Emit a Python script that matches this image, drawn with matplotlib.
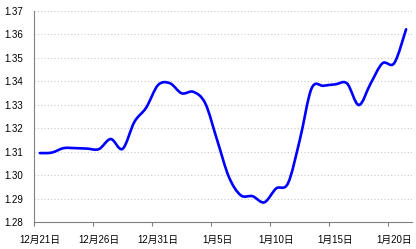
import matplotlib
matplotlib.use("Agg")
import matplotlib.pyplot as plt
import numpy as np
from matplotlib.path import Path
from matplotlib.patches import PathPatch

# daily rate, 12/21 .. 1/21
dates = ["12月21日", "12月22日", "12月23日", "12月24日", "12月25日", "12月26日",
         "12月27日", "12月28日", "12月29日", "12月30日", "12月31日", "1月1日",
         "1月2日", "1月3日", "1月4日", "1月5日", "1月6日", "1月7日", "1月8日",
         "1月9日", "1月10日", "1月11日", "1月12日", "1月13日", "1月14日",
         "1月15日", "1月16日", "1月17日", "1月18日", "1月19日", "1月20日", "1月21日"]
rate = [1.3094, 1.3096, 1.3115, 1.3115, 1.3113, 1.3111, 1.3154, 1.3112,
        1.3227, 1.3288, 1.3384, 1.3392, 1.3349, 1.3355, 1.3306, 1.3150,
        1.2992, 1.2914, 1.2910, 1.2884, 1.2943, 1.2965, 1.3150, 1.3370,
        1.3381, 1.3387, 1.3391, 1.3299, 1.3391, 1.3477, 1.3478, 1.3622]
yticks = [1.28, 1.29, 1.30, 1.31, 1.32, 1.33, 1.34, 1.35, 1.36, 1.37]
label_every = 5

plt.rcParams['font.family'] = ['Liberation Sans', 'Noto Sans CJK SC']

fig = plt.figure(figsize=(4.16, 2.49), dpi=100)
ax = fig.add_axes([34 / 416, 27 / 249, 378 / 416, 211 / 249])

x = np.arange(len(rate))
y = np.array(rate)

# smoothed line like a spreadsheet chart (bezier through the points)
verts = [(x[0], y[0])]
codes = [Path.MOVETO]
n = len(x)
for i in range(n - 1):
    p0 = np.array([x[max(i - 1, 0)], y[max(i - 1, 0)]])
    p1 = np.array([x[i], y[i]])
    p2 = np.array([x[i + 1], y[i + 1]])
    p3 = np.array([x[min(i + 2, n - 1)], y[min(i + 2, n - 1)]])
    c1 = p1 + (p2 - p0) / 6
    c2 = p2 - (p3 - p1) / 6
    verts += [tuple(c1), tuple(c2), tuple(p2)]
    codes += [Path.CURVE4] * 3
ax.add_patch(PathPatch(Path(verts, codes), fill=False, edgecolor="#0000FF",
                       lw=1.9, capstyle="round", joinstyle="round", zorder=3))

ax.set_xlim(-0.5, len(rate) - 0.5)
ax.set_ylim(1.28, 1.37)

ax.set_yticks(yticks)
ax.set_yticklabels(["%.2f" % v for v in yticks], fontsize=7)
ax.tick_params(axis="y", length=0, pad=8)
for v in yticks[1:]:
    ax.axhline(v, color="#c8c8c8", lw=0.8, ls=(0, (1, 2)), zorder=1)

ax.set_xticks(np.arange(-0.5, len(rate), label_every))
ax.set_xticklabels([])
ax.tick_params(axis="x", which="major", length=3, color="#808080", direction="out")
ax.set_xticks(np.arange(0, len(rate), label_every), minor=True)
ax.set_xticklabels(dates[::label_every], minor=True, fontsize=7)
ax.tick_params(axis="x", which="minor", length=0, pad=9)

for s in ["top", "right"]:
    ax.spines[s].set_visible(False)
for s in ["left", "bottom"]:
    ax.spines[s].set_color("#808080")
    ax.spines[s].set_linewidth(0.8)

fig.savefig("out.png", dpi=100)
